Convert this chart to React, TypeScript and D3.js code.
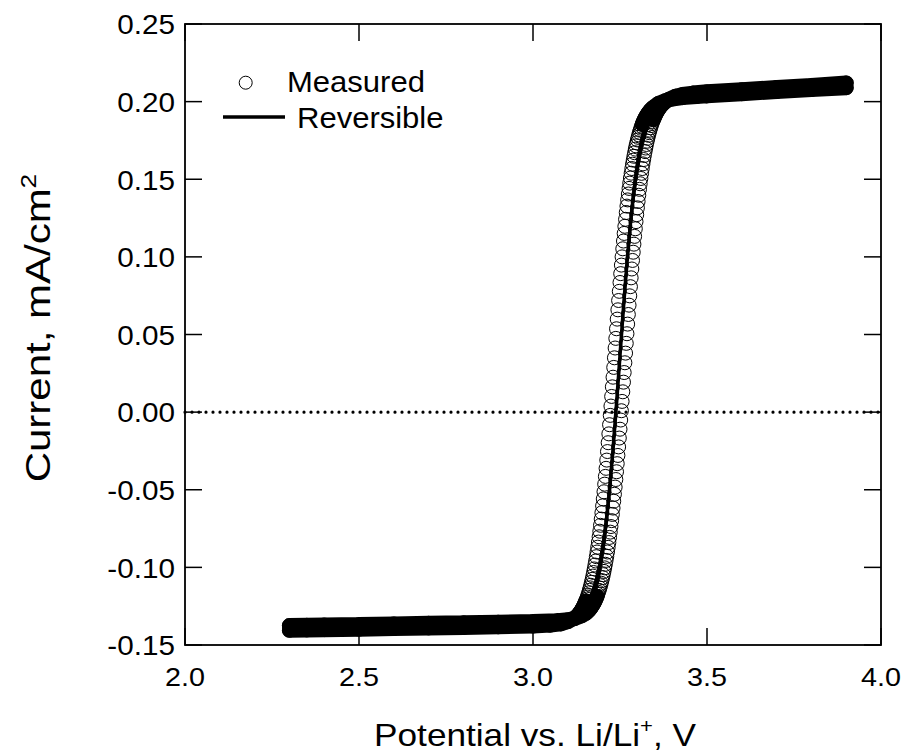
import React from 'react';
import * as d3 from 'd3';

// ---------- data ----------
const xTicks = [2.0, 2.5, 3.0, 3.5, 4.0];
const xTickLabels = ['2.0', '2.5', '3.0', '3.5', '4.0'];
const yTicks = [-0.15, -0.1, -0.05, 0, 0.05, 0.1, 0.15, 0.2, 0.25];
const yTickLabels = ['-0.15', '-0.10', '-0.05', '0.00', '0.05', '0.10', '0.15', '0.20', '0.25'];

// Reversible (calculated) curve: [potential V, current mA/cm2]
const reversible: [number, number][] = [
  [2.30,-0.1390],[2.40,-0.1386],[2.50,-0.1383],[2.60,-0.1379],[2.70,-0.1375],[2.80,-0.1372],
  [2.90,-0.1368],[3.00,-0.1364],[3.05,-0.1360],[3.08,-0.1354],[3.10,-0.1346],[3.12,-0.1331],
  [3.13,-0.1319],[3.14,-0.1303],[3.15,-0.1277],[3.16,-0.1241],[3.17,-0.1189],[3.18,-0.1117],
  [3.19,-0.1018],[3.20,-0.0886],[3.21,-0.0714],[3.22,-0.0498],[3.23,-0.0239],[3.24,0.0054],
  [3.25,0.0365],[3.26,0.0674],[3.27,0.0962],[3.28,0.1212],[3.29,0.1420],[3.30,0.1584],
  [3.31,0.1709],[3.32,0.1801],[3.33,0.1869],[3.34,0.1917],[3.35,0.1951],[3.36,0.1975],
  [3.38,0.2008],[3.40,0.2024],[3.42,0.2034],[3.45,0.2042],[3.50,0.2050],[3.60,0.2064],
  [3.70,0.2078],[3.80,0.2091],[3.90,0.2105],
];

// Measured, cathodic sweep branch (lower-potential transition)
const measuredCathodic: [number, number][] = [
  [2.30,-0.1405],[2.35,-0.1403],[2.40,-0.1401],[2.50,-0.1398],[2.60,-0.1394],[2.70,-0.1390],
  [2.80,-0.1387],[2.90,-0.1383],[3.00,-0.1378],[3.05,-0.1372],[3.08,-0.1364],[3.10,-0.1350],
  [3.120,-0.1326],[3.122,-0.1322],[3.124,-0.1318],[3.126,-0.1313],[3.128,-0.1309],[3.130,-0.1304],
  [3.132,-0.1298],[3.134,-0.1292],[3.136,-0.1286],[3.138,-0.1279],[3.140,-0.1272],[3.142,-0.1264],
  [3.144,-0.1256],[3.146,-0.1247],[3.148,-0.1237],[3.150,-0.1227],[3.152,-0.1216],[3.154,-0.1204],
  [3.156,-0.1191],[3.158,-0.1178],[3.160,-0.1164],[3.162,-0.1148],[3.164,-0.1132],[3.166,-0.1115],
  [3.168,-0.1096],[3.170,-0.1077],[3.172,-0.1056],[3.174,-0.1033],[3.176,-0.1010],[3.178,-0.0985],
  [3.180,-0.0959],[3.182,-0.0931],[3.184,-0.0901],[3.186,-0.0870],[3.188,-0.0837],[3.190,-0.0803],
  [3.192,-0.0767],[3.194,-0.0729],[3.196,-0.0689],[3.198,-0.0648],[3.200,-0.0604],[3.202,-0.0559],
  [3.204,-0.0513],[3.206,-0.0464],[3.208,-0.0414],[3.210,-0.0362],[3.212,-0.0309],[3.214,-0.0254],
  [3.216,-0.0197],[3.218,-0.0140],[3.220,-0.0081],[3.222,-0.0021],[3.224,0.0039],[3.226,0.0101],
  [3.228,0.0163],[3.230,0.0225],[3.232,0.0288],[3.234,0.0350],[3.236,0.0413],[3.238,0.0475],
  [3.240,0.0537],[3.242,0.0599],[3.244,0.0659],[3.246,0.0719],[3.248,0.0778],[3.250,0.0835],
  [3.252,0.0892],[3.254,0.0947],[3.256,0.1000],[3.258,0.1052],[3.260,0.1102],[3.262,0.1151],
  [3.264,0.1197],[3.266,0.1242],[3.268,0.1286],[3.270,0.1327],[3.272,0.1367],[3.274,0.1405],
  [3.276,0.1441],[3.278,0.1475],[3.280,0.1508],[3.282,0.1539],[3.284,0.1569],[3.286,0.1597],
  [3.288,0.1623],[3.290,0.1648],[3.292,0.1671],[3.294,0.1694],[3.296,0.1715],[3.298,0.1734],
  [3.300,0.1753],[3.302,0.1770],[3.304,0.1786],[3.306,0.1802],[3.308,0.1816],[3.310,0.1829],
  [3.312,0.1842],[3.314,0.1854],[3.316,0.1865],[3.318,0.1875],[3.320,0.1885],[3.322,0.1894],
  [3.324,0.1902],[3.326,0.1910],[3.328,0.1917],[3.330,0.1924],[3.332,0.1930],[3.334,0.1936],
  [3.336,0.1942],[3.338,0.1947],[3.340,0.1951],[3.342,0.1956],[3.344,0.1960],[3.346,0.1964],
  [3.36,0.1988],[3.38,0.2006],[3.40,0.2017],[3.43,0.2026],[3.47,0.2033],[3.50,0.2037],
  [3.60,0.2051],[3.70,0.2065],[3.80,0.2078],[3.90,0.2090],
];

// Measured, anodic sweep branch (higher-potential transition)
const measuredAnodic: [number, number][] = [
  [2.30,-0.1375],[2.35,-0.1373],[2.40,-0.1371],[2.50,-0.1368],[2.60,-0.1364],[2.70,-0.1360],
  [2.80,-0.1357],[2.90,-0.1353],[3.00,-0.1349],[3.07,-0.1343],[3.10,-0.1338],[3.12,-0.1329],
  [3.14,-0.1312],
  [3.152,-0.1296],[3.154,-0.1292],[3.156,-0.1288],[3.158,-0.1283],[3.160,-0.1279],[3.162,-0.1274],
  [3.164,-0.1268],[3.166,-0.1262],[3.168,-0.1256],[3.170,-0.1249],[3.172,-0.1242],[3.174,-0.1234],
  [3.176,-0.1226],[3.178,-0.1217],[3.180,-0.1207],[3.182,-0.1197],[3.184,-0.1186],[3.186,-0.1174],
  [3.188,-0.1161],[3.190,-0.1148],[3.192,-0.1134],[3.194,-0.1118],[3.196,-0.1102],[3.198,-0.1085],
  [3.200,-0.1066],[3.202,-0.1047],[3.204,-0.1026],[3.206,-0.1003],[3.208,-0.0980],[3.210,-0.0955],
  [3.212,-0.0929],[3.214,-0.0901],[3.216,-0.0871],[3.218,-0.0840],[3.220,-0.0807],[3.222,-0.0773],
  [3.224,-0.0737],[3.226,-0.0699],[3.228,-0.0659],[3.230,-0.0618],[3.232,-0.0574],[3.234,-0.0529],
  [3.236,-0.0483],[3.238,-0.0434],[3.240,-0.0384],[3.242,-0.0332],[3.244,-0.0279],[3.246,-0.0224],
  [3.248,-0.0167],[3.250,-0.0110],[3.252,-0.0051],[3.254,0.0009],[3.256,0.0069],[3.258,0.0131],
  [3.260,0.0193],[3.262,0.0255],[3.264,0.0318],[3.266,0.0380],[3.268,0.0443],[3.270,0.0505],
  [3.272,0.0567],[3.274,0.0629],[3.276,0.0689],[3.278,0.0749],[3.280,0.0808],[3.282,0.0865],
  [3.284,0.0922],[3.286,0.0977],[3.288,0.1030],[3.290,0.1082],[3.292,0.1132],[3.294,0.1181],
  [3.296,0.1227],[3.298,0.1272],[3.300,0.1316],[3.302,0.1357],[3.304,0.1397],[3.306,0.1435],
  [3.308,0.1471],[3.310,0.1505],[3.312,0.1538],[3.314,0.1569],[3.316,0.1599],[3.318,0.1627],
  [3.320,0.1653],[3.322,0.1678],[3.324,0.1701],[3.326,0.1724],[3.328,0.1745],[3.330,0.1764],
  [3.332,0.1783],[3.334,0.1800],[3.336,0.1816],[3.338,0.1832],[3.340,0.1846],[3.342,0.1859],
  [3.344,0.1872],[3.346,0.1884],[3.348,0.1895],[3.350,0.1905],[3.352,0.1915],[3.354,0.1924],
  [3.356,0.1932],[3.358,0.1940],[3.360,0.1947],[3.362,0.1954],[3.364,0.1960],[3.366,0.1966],
  [3.368,0.1972],[3.370,0.1977],[3.372,0.1981],[3.374,0.1986],[3.376,0.1990],[3.378,0.1994],
  [3.39,0.2015],[3.41,0.2035],[3.43,0.2046],[3.46,0.2055],[3.50,0.2063],[3.60,0.2077],
  [3.70,0.2091],[3.80,0.2104],[3.90,0.2120],
];

// ---------- layout ----------
const W = 906, H = 754;
const L = 185, R = 881, T = 24, B = 645;
const FONT = "'Liberation Sans', Arial, Helvetica, sans-serif";
const MARKER_R = 7;

const x = d3.scaleLinear().domain([2.0, 4.0]).range([L, R]);
const y = d3.scaleLinear().domain([-0.15, 0.25]).range([B, T]);

// Where recorded points lie so close that their outlines merge into a solid band
function bandPath(pts: [number, number][]): string {
  let d = '';
  for (let i = 1; i < pts.length; i++) {
    const x0 = x(pts[i - 1][0]), y0 = y(pts[i - 1][1]);
    const x1 = x(pts[i][0]), y1 = y(pts[i][1]);
    if (Math.abs(y1 - y0) <= 2.6 * Math.abs(x1 - x0)) {
      d += `M${x0},${y0}L${x1},${y1}`;
    }
  }
  return d;
}

function Txt(props: { x: number; y: number; size: number; sx?: number; rot?: number; anchor?: string; children: any }) {
  const { x: tx, y: ty, size, sx = 1, rot = 0, anchor = 'start', children } = props;
  return (
    <text
      transform={`translate(${tx},${ty}) rotate(${rot}) scale(${sx},1)`}
      fontSize={size}
      fontFamily={FONT}
      textAnchor={anchor}
      fill="#000"
    >
      {children}
    </text>
  );
}

export default function App() {
  const line = d3.line<[number, number]>()
    .x(d => x(d[0]))
    .y(d => y(d[1]))
    .curve(d3.curveMonotoneX);

  const tickLen = 17;
  const branches = [measuredAnodic, measuredCathodic];

  return (
    <svg width={W} height={H} style={{ position: 'absolute', left: 0, top: 0, background: '#fff' }}>
      <rect x={0} y={0} width={W} height={H} fill="#fff" />

      {/* zero line */}
      <line x1={L} x2={R} y1={y(0)} y2={y(0)} stroke="#000" strokeWidth={3.2}
        strokeDasharray="0 7" strokeLinecap="round" />

      {/* measured: merged dense band + circles */}
      {branches.map((b, i) => (
        <path key={'band' + i} d={bandPath(b)} stroke="#000" strokeWidth={MARKER_R * 2 + 1}
          strokeLinecap="round" fill="none" />
      ))}
      {branches.map((b, i) => (
        <g key={'pts' + i}>
          {b.map((p, j) => (
            <circle key={j} cx={x(p[0])} cy={y(p[1])} r={MARKER_R} fill="none" stroke="#000" strokeWidth={1} />
          ))}
        </g>
      ))}

      {/* reversible line */}
      <path d={line(reversible) || ''} fill="none" stroke="#000" strokeWidth={3.5} />

      {/* frame */}
      <rect x={L} y={T} width={R - L} height={B - T} fill="none" stroke="#000" strokeWidth={1.8} />

      {/* ticks */}
      {xTicks.map((t, i) => (
        <g key={'xt' + i}>
          <line x1={x(t)} x2={x(t)} y1={B} y2={B - tickLen} stroke="#000" strokeWidth={1.5} />
          <line x1={x(t)} x2={x(t)} y1={T} y2={T + tickLen} stroke="#000" strokeWidth={1.5} />
          <Txt x={x(t)} y={686} size={25} sx={1.15} anchor="middle">{xTickLabels[i]}</Txt>
        </g>
      ))}
      {yTicks.map((t, i) => (
        <g key={'yt' + i}>
          <line x1={L} x2={L + tickLen} y1={y(t)} y2={y(t)} stroke="#000" strokeWidth={1.5} />
          <line x1={R} x2={R - tickLen} y1={y(t)} y2={y(t)} stroke="#000" strokeWidth={1.5} />
          <Txt x={175} y={y(t) + 10.3} size={28} sx={1.06} anchor="end">{yTickLabels[i]}</Txt>
        </g>
      ))}

      {/* axis titles */}
      <Txt x={535} y={746} size={32} sx={1.1} anchor="middle">
        Potential vs. Li/Li<tspan fontSize={20} dy={-13}>+</tspan><tspan dy={13}>, V</tspan>
      </Txt>
      <Txt x={50} y={328} size={35} sx={1.2} rot={-90} anchor="middle">
        Current, mA/cm<tspan fontSize={22} dy={-14}>2</tspan>
      </Txt>

      {/* legend */}
      <circle cx={245.7} cy={82.7} r={6.5} fill="none" stroke="#000" strokeWidth={1} />
      <Txt x={287} y={91.7} size={29} sx={1.07}>Measured</Txt>
      <line x1={223} x2={285} y1={117} y2={117} stroke="#000" strokeWidth={3.5} />
      <Txt x={297} y={127.7} size={29} sx={1.07}>Reversible</Txt>
    </svg>
  );
}
